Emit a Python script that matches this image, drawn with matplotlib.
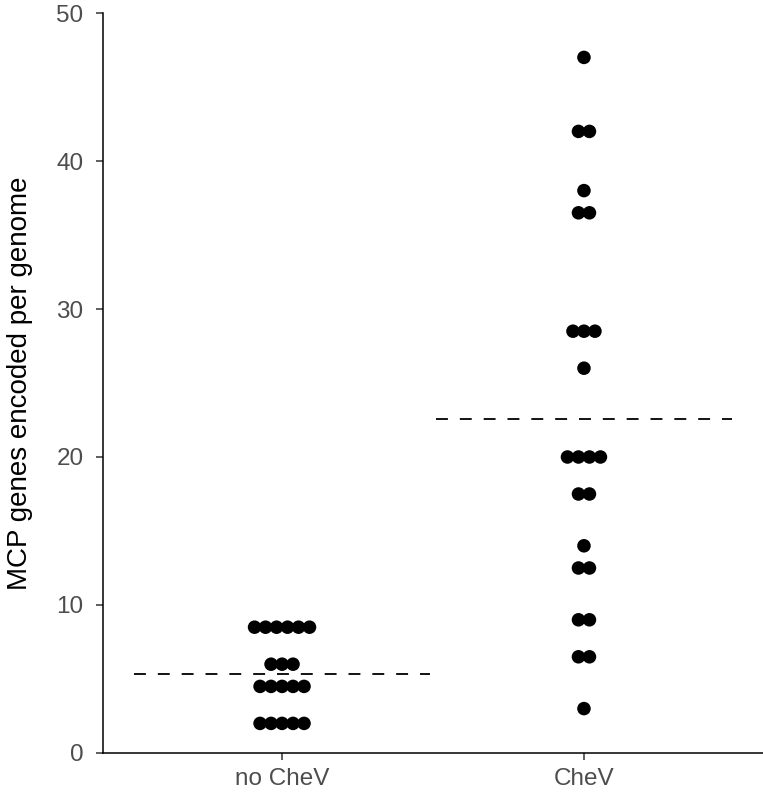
import numpy as np
import matplotlib.pyplot as plt

plt.rcParams['font.family'] = ['Liberation Sans', 'DejaVu Sans']

categories = ["no CheV", "CheV"]
# MCP genes per genome, one entry per genome (dotplot bin centres)
no_chev = [8.5] * 6 + [6] * 3 + [4.5] * 5 + [2] * 5
chev = [47, 42, 42, 38, 36.5, 36.5, 28.5, 28.5, 28.5, 26,
        20, 20, 20, 20, 17.5, 17.5, 14, 12.5, 12.5, 9, 9, 6.5, 6.5, 3]
groups = [no_chev, chev]

fig = plt.figure(figsize=(7.63, 7.98), dpi=100)
ax = fig.add_axes([0.135, 0.0564, 0.865, 0.9273])

dot_step = 0.0364  # horizontal spacing between stacked dots
for i, vals in enumerate(groups):
    xc = i + 1
    vals = np.array(vals, dtype=float)
    xs, ys = [], []
    for v in np.unique(vals):
        n = int((vals == v).sum())
        offs = (np.arange(n) - (n - 1) / 2) * dot_step
        xs.extend(xc + offs)
        ys.extend([v] * n)
    ax.scatter(xs, ys, s=95, color='black', edgecolors='none', zorder=3)
    m = vals.mean()
    ax.plot([xc - 0.49, xc + 0.49], [m, m], color='black', lw=1.3,
            dashes=(6.6, 6.6), zorder=2)

ax.set_xlim(0.407, 2.593)
ax.set_ylim(0, 50)
ax.set_xticks([1, 2])
ax.set_xticklabels(categories)
ax.set_yticks([0, 10, 20, 30, 40, 50])
ax.tick_params(axis='both', labelsize=17.5, labelcolor='#4d4d4d',
               length=5, width=1.1, color='#333333')
ax.tick_params(axis='x', pad=6)
ax.tick_params(axis='y', pad=9)
ax.set_ylabel("MCP genes encoded per genome", fontsize=20, color='black')
ax.yaxis.set_label_coords(-0.106, 0.5)
for s in ['top', 'right']:
    ax.spines[s].set_visible(False)
for s in ['left', 'bottom']:
    ax.spines[s].set_linewidth(1.1)
    ax.spines[s].set_color('black')

fig.savefig('out.png', dpi=100)
